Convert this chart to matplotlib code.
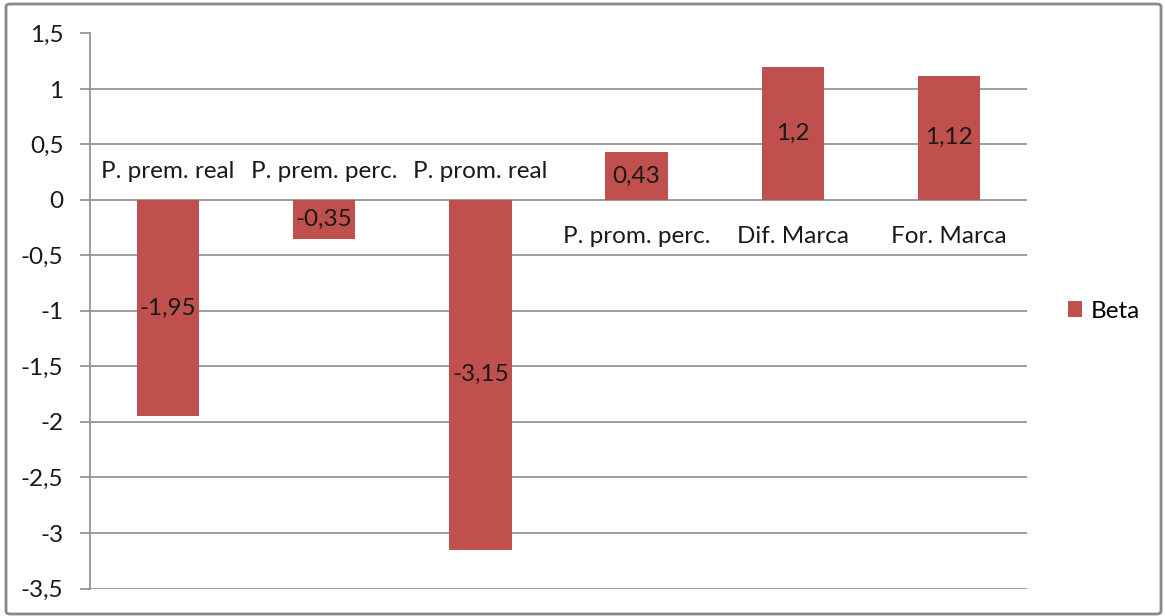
import matplotlib.pyplot as plt
from matplotlib.patches import FancyBboxPatch
from matplotlib.ticker import FuncFormatter
import numpy as np

plt.rcParams['font.family'] = ['Lato', 'DejaVu Sans']

categorias = ['P. prem. real', 'P. prem. perc.', 'P. prom. real',
              'P. prom. perc.', 'Dif. Marca', 'For. Marca']
beta = [-1.95, -0.35, -3.15, 0.43, 1.2, 1.12]
yticks = np.arange(-3.5, 1.51, 0.5)

rojo = '#C0504D'
gris = '#8c8c8c'
fs = 17.5

def coma(v):
    s = ('%g' % v).replace('.', ',')
    return s

fig = plt.figure(figsize=(11.65, 6.16), dpi=100)
ax = fig.add_axes([90/1165, (616-588.5)/616, (1027-90)/1165, (588.5-33.5)/616])

x = np.arange(len(categorias))
bars = ax.bar(x, beta, width=0.4, color=rojo, label='Beta', zorder=3)

ax.set_xlim(-0.5, len(categorias) - 0.5)
ax.set_ylim(-3.5, 1.5)
ax.set_yticks(yticks)
ax.yaxis.set_major_formatter(FuncFormatter(lambda v, p: coma(round(v, 2))))
ax.set_xticks([])
ax.grid(axis='y', color=gris, linewidth=1.2, zorder=0)
for s in ['top', 'right', 'bottom']:
    ax.spines[s].set_visible(False)
ax.spines['left'].set_color(gris)
ax.spines['left'].set_linewidth(1.2)
ax.tick_params(axis='y', length=7, width=1.2, color=gris, pad=12,
               labelsize=fs, labelcolor='#1a1a1a')

# etiquetas de categoria junto al eje cero, etiquetas de valor dentro de la barra
for i, v in enumerate(beta):
    off = 28 if v < 0 else -37
    ax.annotate(categorias[i], (i, 0), xytext=(0, off), textcoords='offset pixels',
                ha='center', va='center', fontsize=fs, color='#1a1a1a')
    ax.text(i, v / 2, coma(v), ha='center', va='center', fontsize=fs,
            color='#1a1a1a', zorder=4)

fig.legend(handles=[bars], labels=['Beta'], loc='center left',
           bbox_to_anchor=(1046/1165, 1 - 311/616), frameon=False,
           fontsize=fs, handlelength=0.6, handleheight=0.6, handletextpad=0.35)

borde = FancyBboxPatch((6/1165, 2/616), 1155/1165, 610/616,
                       boxstyle='round,pad=0,rounding_size=0.004',
                       transform=fig.transFigure, fill=False,
                       edgecolor='#888888', linewidth=2)
fig.patches.append(borde)

fig.savefig('out.png', dpi=100)
